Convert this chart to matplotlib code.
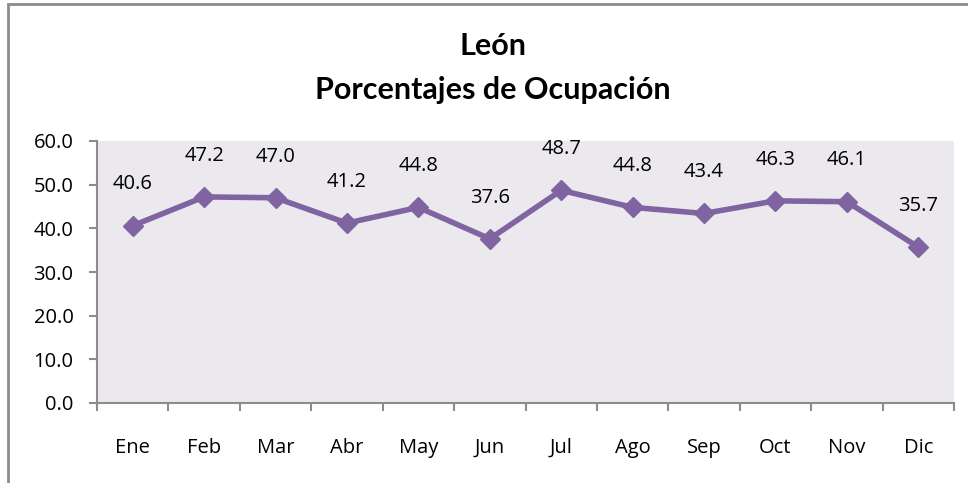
import matplotlib

matplotlib.use("Agg")
import matplotlib.pyplot as plt
from matplotlib.patches import Rectangle

months = ["Ene", "Feb", "Mar", "Abr", "May", "Jun",
          "Jul", "Ago", "Sep", "Oct", "Nov", "Dic"]
ocupacion = [40.6, 47.2, 47.0, 41.2, 44.8, 37.6,
             48.7, 44.8, 43.4, 46.3, 46.1, 35.7]
yticks = [0, 10, 20, 30, 40, 50, 60]

plt.rcParams["font.family"] = ["Open Sans", "DejaVu Sans"]

W, H = 968, 483
fig = plt.figure(figsize=(W / 100, H / 100), dpi=100)

# outer chart frame (right/bottom edges fall outside the picture)
fig.patches.append(Rectangle((8 / W, -0.05), 1.0, 1 - 4 / H + 0.05,
                             transform=fig.transFigure, fill=False,
                             edgecolor="#8c8c8c", linewidth=2))

ax = fig.add_axes([97 / W, 1 - 403 / H, (954 - 97) / W, (403 - 141) / H])
ax.set_facecolor("#ebe8ee")

x = list(range(len(months)))
ax.plot(x, ocupacion, color="#8064a2", linewidth=4, marker="D",
        markersize=10, zorder=3)
for xi, v in zip(x, ocupacion):
    ax.text(xi, v + 8.3, f"{v:.1f}", ha="center", va="baseline", fontsize=14.5)

ax.set_xlim(-0.5, len(months) - 0.5)
ax.set_ylim(0, 60)
ax.set_yticks(yticks)
ax.set_yticklabels([f"{t:.1f}" for t in yticks], fontsize=14.5)
ax.set_xticks(x)
ax.set_xticklabels(months, fontsize=14.5)
# category boundary ticks like Excel
ax.set_xticks([i - 0.5 for i in range(len(months) + 1)], minor=True)
ax.tick_params(axis="x", which="major", length=0, pad=25)
ax.tick_params(axis="x", which="minor", length=6, color="#8c8c8c", width=1.5)
ax.tick_params(axis="y", length=6, color="#8c8c8c", width=1.5, pad=11)

for side in ["top", "right"]:
    ax.spines[side].set_visible(False)
for side in ["left", "bottom"]:
    ax.spines[side].set_color("#8c8c8c")
    ax.spines[side].set_linewidth(1.5)

cx = 493 / W
fig.text(cx, 1 - 46 / H, "León", ha="center", va="center",
         fontsize=22, fontweight="bold", family=["Lato", "DejaVu Sans"])
fig.text(cx, 1 - 90 / H, "Porcentajes de Ocupación", ha="center",
         va="center", fontsize=22, fontweight="bold",
         family=["Lato", "DejaVu Sans"])

fig.savefig("out.png", dpi=100)
